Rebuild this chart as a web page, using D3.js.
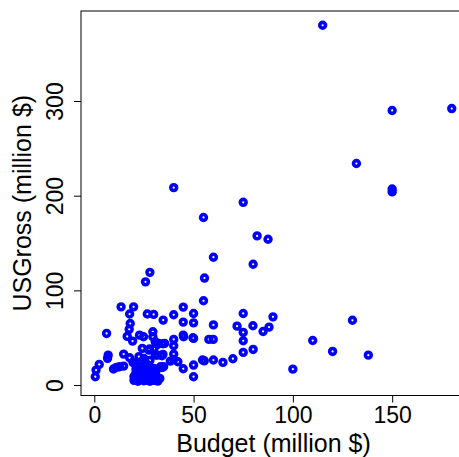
<!DOCTYPE html>
<html>
<head>
<meta charset="utf-8">
<script src="https://cdn.jsdelivr.net/npm/d3@7"></script>
<style>
  html, body { margin: 0; padding: 0; background: #fff; }
  svg { display: block; }
  text { font-family: "Liberation Sans", Arial, Helvetica, sans-serif; fill: #000; }
</style>
</head>
<body>
<svg id="chart" width="459" height="457"></svg>
<script>
// Movie budget vs. US box-office gross, both in million $
const budget = [
  115, 150, 180, 132, 150, 150, 40, 75, 55, 82, 87.5, 60, 80, 28, 25.8, 55.5,
  55, 13.5, 19.8, 17.8, 26.7, 29.9, 44.8, 40, 34.7, 50, 44.8, 50, 18.1, 17.6, 60,
  6.2, 16.6, 22.8, 24.8, 29.5, 29.5, 44.8, 50, 19.3, 31.9, 34.6, 40, 40, 57.7, 59.9,
  27.8, 7, 6.7, 14.8, 17.8, 31.9, 34.6, 40, 40, 42.1, 44.8, 34.9, 50, 50,
  54.5, 55.4, 60, 64.8, 69.8, 2.5, 0.9, 0.5, 9.7, 11.1, 12.7, 14.8,
  75, 71.9, 79.9, 90, 88, 85, 75, 75, 80, 75, 110, 120, 100, 130, 138,
  24.2, 27.5, 30.1, 20.8, 25, 25, 30.1, 33.4, 30.7, 32.4, 35.4, 45, 49.7,
  30.7, 34.1, 38.3, 34.1, 30.7,
  20, 20, 21, 21, 22, 23, 23, 24, 24, 25, 25, 26, 26, 27, 27, 28, 28, 29, 29,
  30, 31, 31, 32, 33, 22, 26, 19.5, 25, 28, 22.5
];
const usGross = [
  380, 290, 292, 234, 204, 207, 208.5, 193, 177, 157.5, 154, 135, 127.6, 119, 109, 113,
  89, 82.6, 82.6, 75, 75, 74.6, 82.3, 74.2, 68.6, 75.6, 66.5, 65.7, 65, 58.8, 63.5,
  54.5, 51.4, 52.7, 51, 56.3, 51, 52.7, 49.3, 46.4, 42.9, 43.6, 48.2, 41.5, 48.2, 48.2,
  38, 31.6, 28.2, 32.7, 28.8, 31.6, 32.4, 32.7, 27.1, 24.6, 17.2, 19.3, 21.1, 8.8,
  26.4, 25.6, 26.4, 23.9, 27.8, 21.8, 15.8, 8.8, 16.9, 18.7, 19.3, 20,
  75.6, 62.2, 62.6, 72, 61.2, 56.6, 55.6, 46.8, 37.6, 34.5, 47, 35.5, 16.8, 68.4, 31.6,
  38.7, 36.9, 38.7, 21.8, 24.6, 10.5, 17.6, 19.3, 45.7, 44, 44, 51, 49.9,
  31.6, 30.9, 25.3, 18.7, 8.8,
  5, 9, 13, 17, 4, 6, 11, 15, 19, 4.5, 8, 13, 17, 5, 21, 9, 4, 12, 16,
  5, 10, 14, 4.2, 7, 20, 23, 24, 28, 26, 30
];
const xTicks = [0, 50, 100, 150];
const yTicks = [0, 100, 200, 300];
const xTitle = "Budget (million $)";
const yTitle = "USGross (million $)";

const points = budget.map((b, i) => ({ b, g: usGross[i] }));

const svg = d3.select("#chart");
const plot = { left: 81, right: 466, top: 11, bottom: 395.5 };

// Pad each data range by 4% on both sides
function padded(ext) {
  const p = (ext[1] - ext[0]) * 0.04;
  return [ext[0] - p, ext[1] + p];
}

const x = d3.scaleLinear()
  .domain(padded(d3.extent(budget)))
  .range([plot.left, plot.right]);
const y = d3.scaleLinear()
  .domain(padded(d3.extent(usGross)))
  .range([plot.bottom, plot.top]);

// Bottom axis
const xAxis = svg.append("g")
  .attr("transform", `translate(0,${plot.bottom})`)
  .call(d3.axisBottom(x).tickValues(xTicks).tickSize(7).tickPadding(4).tickFormat(d3.format("d")));
xAxis.select(".domain").remove();
xAxis.selectAll(".tick line").attr("stroke", "#000");
xAxis.selectAll(".tick text").attr("font-size", 23).attr("font-family", null);

// Left axis with rotated labels
const yAxis = svg.append("g")
  .attr("transform", `translate(${plot.left},0)`)
  .call(d3.axisLeft(y).tickValues(yTicks).tickSize(7).tickFormat(d3.format("d")));
yAxis.select(".domain").remove();
yAxis.selectAll(".tick line").attr("stroke", "#000");
yAxis.selectAll(".tick text")
  .attr("font-size", 23)
  .attr("font-family", null)
  .attr("x", null).attr("dy", null)
  .attr("text-anchor", "middle")
  .attr("transform", "translate(-18,0) rotate(-90)");

// Plot frame
svg.append("rect")
  .attr("x", plot.left).attr("y", plot.top)
  .attr("width", plot.right - plot.left).attr("height", plot.bottom - plot.top)
  .attr("fill", "none").attr("stroke", "#000").attr("stroke-width", 1);

// Axis titles
svg.append("text")
  .attr("x", (plot.left + plot.right) / 2).attr("y", 452)
  .attr("text-anchor", "middle").attr("font-size", 25)
  .text(xTitle);
svg.append("text")
  .attr("transform", `translate(31,${(plot.top + plot.bottom) / 2}) rotate(-90)`)
  .attr("text-anchor", "middle").attr("font-size", 25)
  .text(yTitle);

// Points: open circles with a heavy blue outline
svg.append("g")
  .selectAll("circle")
  .data(points)
  .join("circle")
  .attr("cx", d => x(d.b))
  .attr("cy", d => y(d.g))
  .attr("r", 2.9)
  .attr("fill", "none")
  .attr("stroke", "#0000ff")
  .attr("stroke-width", 3.6);
</script>
</body>
</html>
